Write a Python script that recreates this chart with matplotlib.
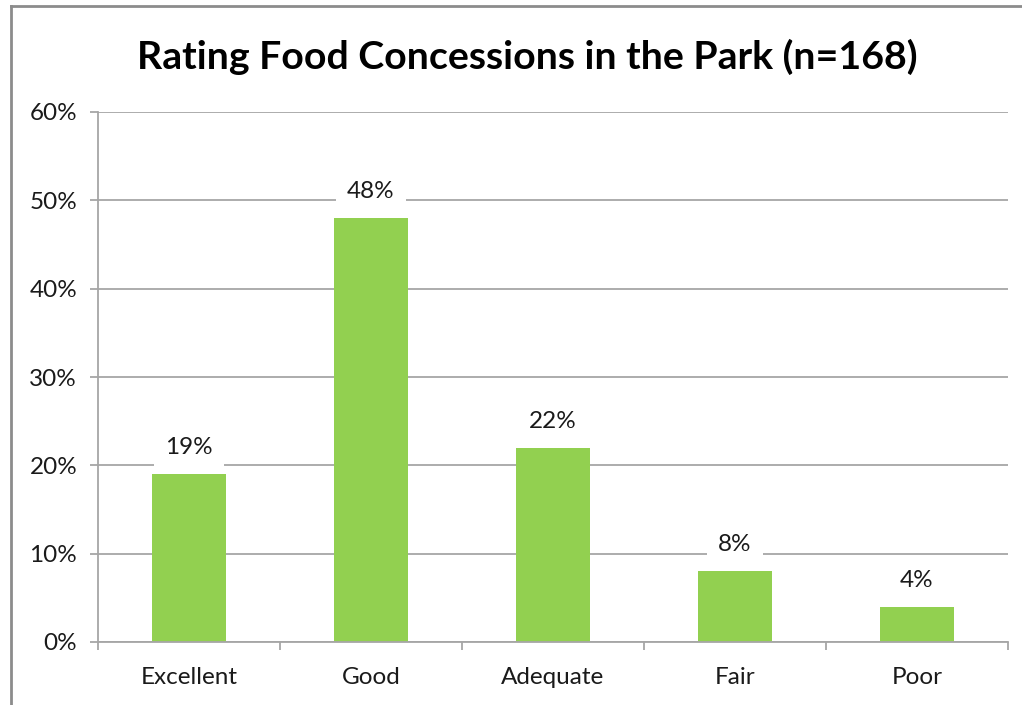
import matplotlib
matplotlib.use("Agg")
import matplotlib.pyplot as plt
from matplotlib.lines import Line2D
from matplotlib.ticker import FuncFormatter, FixedLocator

categories = ["Excellent", "Good", "Adequate", "Fair", "Poor"]
values = [19, 48, 22, 8, 4]
yticks = [0, 10, 20, 30, 40, 50, 60]
title = "Rating Food Concessions in the Park (n=168)"

plt.rcParams["font.family"] = ["Lato", "DejaVu Sans"]

W, H = 1022, 705
fig = plt.figure(figsize=(W / 100, H / 100), dpi=100)
fig.patch.set_facecolor("white")

# chart-area border (left and top edges visible)
border_col = "#8c8c8c"
fig.add_artist(Line2D([11 / W, 11 / W], [0, 1 - 6 / H], transform=fig.transFigure,
                      color=border_col, lw=2.0))
fig.add_artist(Line2D([11 / W, 1.0], [1 - 6 / H, 1 - 6 / H], transform=fig.transFigure,
                      color=border_col, lw=2.0))

ax = fig.add_axes([98 / W, 1 - 642 / H, (1008 - 98) / W, (642 - 112) / H])

grid_col = "#a6a6a6"
label_size = 17.5
x = list(range(len(categories)))
ax.bar(x, values, width=0.41, color="#92d050", zorder=2)

ax.set_xlim(-0.5, len(categories) - 0.5)
ax.set_ylim(0, 60)
ax.set_yticks(yticks)
ax.yaxis.set_major_formatter(FuncFormatter(lambda v, p: f"{int(v)}%"))
ax.yaxis.grid(True, color=grid_col, lw=1.3, zorder=0)
ax.set_axisbelow(True)

ax.set_xticks(x)
ax.set_xticklabels(categories)
ax.xaxis.set_minor_locator(FixedLocator([i - 0.5 for i in range(len(categories) + 1)]))
ax.tick_params(axis="x", which="major", length=0, pad=18, labelsize=label_size)
ax.tick_params(axis="x", which="minor", length=6, width=1.3, color=grid_col)
ax.tick_params(axis="y", length=6, width=1.3, color=grid_col, pad=9, labelsize=label_size)
for lbl in ax.get_xticklabels() + ax.get_yticklabels():
    lbl.set_color("#1a1a1a")

for s in ["top", "right"]:
    ax.spines[s].set_visible(False)
for s in ["left", "bottom"]:
    ax.spines[s].set_color(grid_col)
    ax.spines[s].set_linewidth(1.3)

for xi, v in zip(x, values):
    ax.annotate(f"{v}%", xy=(xi, v), xytext=(0, 19), textcoords="offset points",
                ha="center", va="center", fontsize=label_size, color="#1a1a1a",
                bbox=dict(boxstyle="square,pad=0.45", fc="white", ec="none"), zorder=3)

fig.text(527 / W, 1 - 57 / H, title, ha="center", va="center",
         fontsize=28.3, fontweight="bold", color="#000000")

fig.savefig("out.png", dpi=100, facecolor="white")
